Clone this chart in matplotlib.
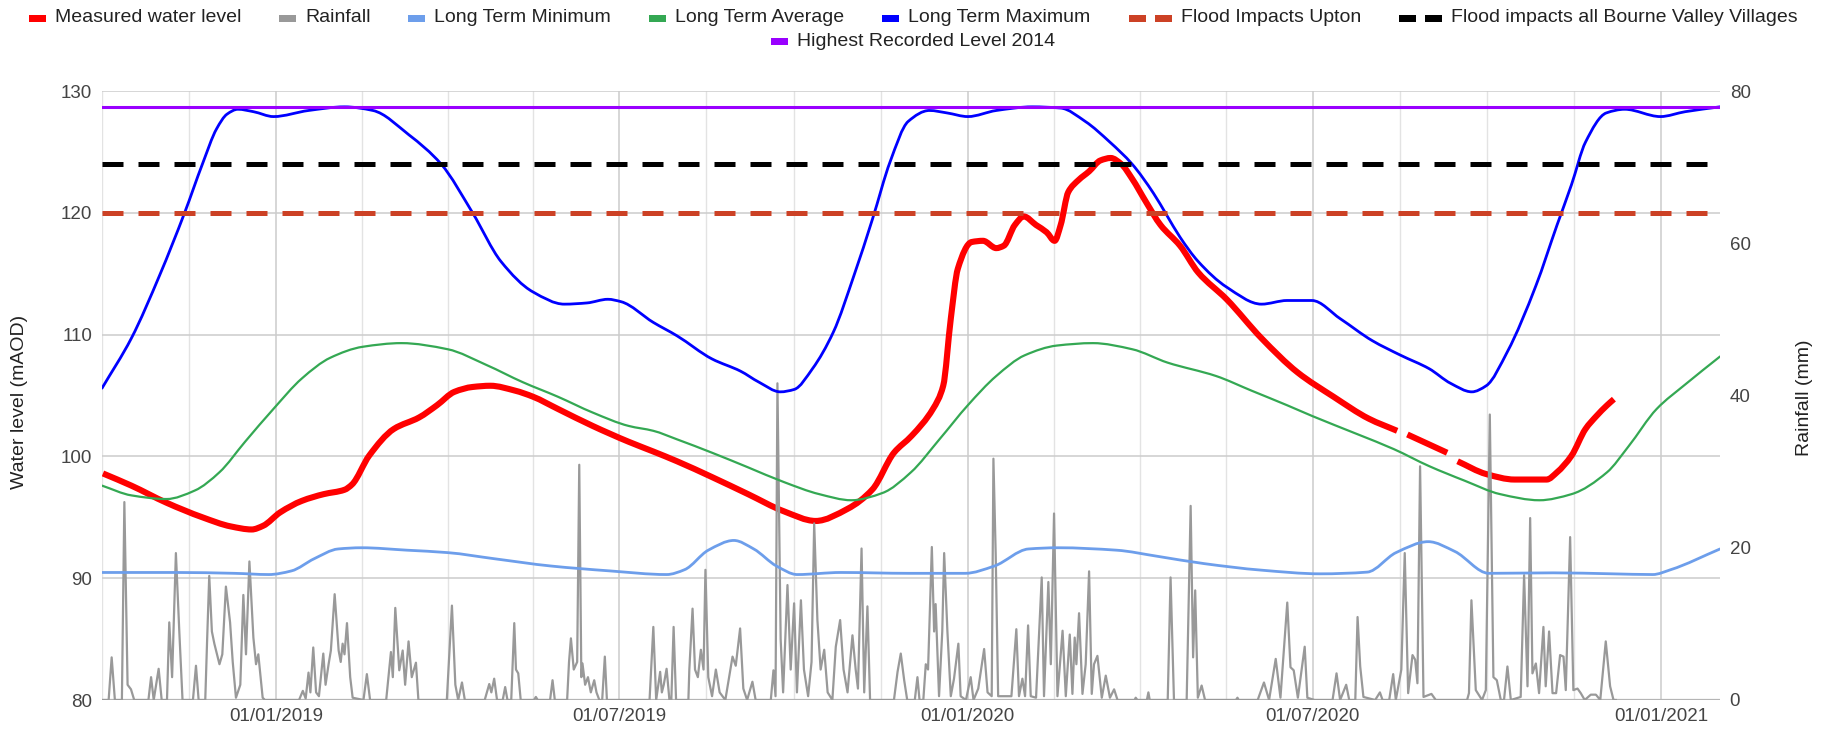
import matplotlib
matplotlib.use("Agg")
import matplotlib.pyplot as plt
import matplotlib.dates as mdates
from matplotlib.patches import Rectangle, PathPatch
from matplotlib.path import Path
import numpy as np
import pandas as pd

plt.rcParams['font.family'] = ['Liberation Sans', 'DejaVu Sans']

# ---------------- data (days counted from start_date) ----------------
start_date = "2018-10-01"
x_end_day = 854

level_day = [0.5, 15.5, 34, 53, 68, 79, 85, 94, 105.5, 117, 128, 132, 141, 154, 167.4, 176.8,
             186, 195.6, 205, 218, 227.5, 240.6, 259, 278, 291, 303.5, 322, 341, 359.8, 376.7,
             393.6, 406.7, 418, 427.4, 438.6, 444, 448, 451.7, 459, 465, 472, 476, 481.8, 486.5,
             493, 498.6, 502.8, 506, 510, 515.5, 521, 527, 532.4, 538, 543.7, 551, 558.7, 569,
             578.6, 593.6, 612, 631, 650, 668.6, 683.6, 686, 689, 710, 712.5, 715.5, 730.6,
             745.6, 762.5, 768, 775.6, 783, 788.7, 794.4, 798]
level_mAOD = [98.6, 97.6, 96.2, 95.0, 94.25, 94.0, 94.3, 95.4, 96.35, 96.9, 97.26, 97.7, 100.06,
              102.25, 103.2, 104.2, 105.3, 105.7, 105.8, 105.4, 104.9, 103.9, 102.5, 101.2, 100.4,
              99.6, 98.3, 96.9, 95.5, 94.7, 95.7, 97.3, 100.3, 101.7, 103.9, 105.8, 111.3, 115.4,
              117.6, 117.7, 117.1, 117.3, 119.0, 119.7, 119.0, 118.4, 117.7, 119.0, 121.7, 122.7,
              123.4, 124.3, 124.5, 124.0, 122.8, 120.9, 119.0, 117.3, 115.1, 112.9, 109.7, 106.9,
              104.9, 103.1, 102.1, np.nan, 101.8, 100.3, np.nan, 99.6, 98.55, 98.1, 98.1, 98.7,
              100.05, 102.25, 103.3, 104.2, 104.7]

lt_min_day = [0, 39, 70, 88, 100, 112, 124.6, 137, 161, 182.5, 207, 237, 268, 298, 307.5, 320,
              333.5, 344, 356, 367, 390, 426, 455.5, 471, 489, 504.7, 535.5, 557, 581.6, 612,
              643, 667.8, 683, 700, 714, 732, 766, 797, 818.5, 828, 854]
lt_min = [90.47, 90.47, 90.4, 90.3, 90.6, 91.6, 92.4, 92.5, 92.3, 92.1, 91.6, 91.0, 90.6, 90.3,
          90.7, 92.3, 93.1, 92.4, 91.0, 90.3, 90.47, 90.4, 90.4, 91.0, 92.4, 92.5, 92.3, 91.8,
          91.2, 90.66, 90.36, 90.5, 92.1, 93.0, 92.2, 90.4, 90.44, 90.36, 90.3, 90.7, 92.4]

lt_avg_day = [0, 15.5, 34, 49, 62, 75.5, 90.5, 105.5, 120.5, 137.6, 158, 182.4, 203, 222, 240.6,
              259, 278, 291, 303.5, 322, 341, 359.8, 378.6, 395.5, 412, 427, 442, 457, 472, 487,
              504, 523, 543.7, 562.4, 588, 606.7, 625.5, 639, 663, 681.8, 700.5, 719.3, 738,
              758.7, 775.6, 794.4, 805.6, 820.6, 835.6, 854]
lt_avg = [97.6, 96.8, 96.5, 97.2, 98.7, 101.2, 103.9, 106.4, 108.1, 109.0, 109.3, 108.8, 107.5,
          106.1, 104.9, 103.6, 102.5, 102.1, 101.4, 100.3, 99.1, 97.9, 96.9, 96.4, 97.0, 98.7,
          101.4, 104.2, 106.6, 108.3, 109.1, 109.3, 108.8, 107.7, 106.6, 105.4, 104.2, 103.3,
          101.8, 100.6, 99.2, 98.0, 96.9, 96.4, 96.9, 98.7, 100.8, 103.9, 105.9, 108.2]

lt_max_day = [0, 15.5, 30.5, 43.6, 53, 60.5, 66, 71.7, 80, 90.5, 109, 128, 143, 162, 179, 195.6,
              210.6, 227.5, 244, 256, 267, 274, 291, 303.5, 322, 337, 346.7, 358, 365.4, 375, 386,
              397, 406.7, 416, 425.5, 436.7, 446, 457, 472, 491, 506, 519, 532, 543.7, 555, 562,
              569, 578.6, 593.6, 612, 625.5, 638.6, 653.6, 670.5, 685.5, 700.5, 711.8, 723,
              730.6, 741.8, 756.8, 768, 775.6, 783, 794, 803.7, 822.5, 835.6, 854]
lt_max = [105.6, 109.7, 114.9, 120.0, 124.0, 126.9, 128.1, 128.5, 128.3, 127.9, 128.4, 128.7,
          128.4, 126.4, 124.0, 120.0, 116.0, 113.5, 112.5, 112.6, 112.9, 112.7, 111.0, 109.9,
          108.0, 107.0, 106.1, 105.3, 105.5, 107.2, 110.2, 114.9, 119.5, 124.2, 127.5, 128.4,
          128.2, 127.9, 128.4, 128.7, 128.6, 127.5, 125.8, 124.0, 121.6, 119.8, 118.0, 116.0,
          113.9, 112.5, 112.8, 112.8, 111.3, 109.5, 108.3, 107.2, 106.0, 105.3, 105.8, 108.6,
          114.0, 119.0, 122.3, 125.8, 128.2, 128.5, 127.9, 128.3, 128.7]

flood_upton = 120.0
flood_bourne = 124.0
highest_2014 = 128.7

rain_day = [0, 3.5, 5.1, 6.8, 10.5, 11.8, 13.5, 15.3, 17, 24.5, 25.9, 27.3, 29.9, 31.5, 34.3, 35.5,
            37, 39, 40.8, 42.5, 48, 49.6, 51, 54.5, 55.5, 56.6, 58, 59.3, 62, 63.5, 65.4, 67.6, 69,
            70.7, 73, 74.6, 76, 77.8, 79.9, 81.3, 82.5, 84.8, 86, 104, 106, 107.5, 109, 110, 111.5,
            113, 114.5, 116.8, 118, 119.6, 120.8, 122.8, 124.9, 126, 127, 128, 129.3, 131, 132.3,
            138, 139.8, 141.5, 150, 152.5, 153.5, 154.8, 156.9, 158.7, 160, 161.8, 163.5, 165.7,
            167, 182, 184.7, 186.5, 188, 190, 191.5, 202, 204.4, 205.5, 207, 208.5, 211.5, 212.8,
            214,
            216, 217.6, 218.5, 219.7, 221, 228, 229, 230, 236.5, 237.8, 239, 245.5, 246.5, 247.5,
            249, 250.8, 251.9, 253, 253.6, 255, 256.5, 258, 259.8, 261, 262.5, 264, 265.4, 266.5,
            289, 291, 292.5, 294.6, 295.5, 296.5, 298, 299.5, 300.5, 301.7, 303, 309.5, 310,
            311.7, 313, 314.5, 316.1, 317.5, 318.5, 320, 322, 324, 326, 329, 331, 332.8, 334.5,
            336.8, 338.5, 340.5, 343.3, 345, 353, 354.4, 355.5, 356.5, 358.2, 359.5, 361.8, 363.5,
            365.3, 366.8, 368.9, 370.5, 372.7, 374.5, 375.9, 377.6, 379.3, 381.2, 383, 385.5,
            387.3, 389.6, 391.4, 393.5, 396.1, 397.8, 399, 400.9, 402.3, 404, 405.4, 418, 419.9,
            421.6, 423.4, 425,
            429, 430.4, 431.5, 433.5, 434.8, 436, 438, 439.2, 440, 441.8, 443.5, 444.5, 446.2,
            448, 449.7, 452, 453.2, 456, 458.5, 460, 462.5, 465.6, 467.4, 469.6, 470.5, 471.7,
            473, 480, 482.6, 484, 485.8, 487.2, 488.8, 490.2, 493, 496, 497.2, 499.5, 500.8,
            502.5, 504.3, 507, 508.7, 510.8, 512.2, 513.4, 514.3, 515.7, 517.5, 519.2, 521, 522.4,
            523.6, 525.4, 527.7, 529.8, 532, 534.2, 536, 545, 545.6, 546.5, 551.5, 552.3, 553,
            562.5, 564, 565.8, 572.5, 574.6, 575.9, 577, 578.4, 580.4, 582.2, 598.5, 599.3, 600,
            610, 610.7, 613.3, 616, 619.5, 622, 625.6, 627.3, 629, 631.2, 634.8, 636.2,
            640, 647, 649.5, 651.6, 653.5, 656.7, 658.3, 661.5, 662.7, 664.1, 665.8, 672, 674.5,
            675.9, 679.4, 681.5, 682.9, 685.8, 687.6, 689.4, 691.7, 693.1, 694.3, 695.7, 697.5,
            701.7, 704, 720.5, 721.5, 722.8, 725.1, 728.4, 730.4, 732.5, 734.4, 736.2, 738.3, 740,
            741.8, 743.6, 748.8, 750.6, 752.4, 753.8, 755, 756.8, 758.5, 760.8, 762, 763.8, 765.6,
            767.5, 769.6, 771.4, 772.6, 774.9, 776.6, 778.8, 780.5, 782.6, 785.8, 788.5, 790.8,
            793.7, 796, 797.8, 799]
rain_mm = [0, 0, 5.6, 0, 0, 26.0, 2, 1.4, 0, 0, 3.0, 0, 4.1, 0, 0, 10.2,
           3, 19.3, 9.0, 0, 0, 4.5, 0, 0, 8, 16.3, 9, 7.4, 4.7, 6, 14.9, 10.2, 5,
           0.3, 2, 13.8, 6, 18.2, 8.2, 4.7, 6, 0.3, 0, 0, 1.2, 0.2, 3.6, 1, 6.9,
           1, 0.5, 6.1, 2, 4.7, 6.5, 13.9, 6.5, 5, 7.4, 6, 10.1, 3, 0.3,
           0, 3.4, 0, 0, 6.3, 3, 12.1, 3.9, 6.5, 2, 7.7, 3, 4.9,
           0, 0, 12.4, 2, 0, 2.3, 0, 0, 2.1, 1, 2.8, 0, 0, 1.7,
           0,
           0, 10.1, 4, 3.5, 0, 0, 0.4, 0, 0, 2.6, 0, 0, 5, 8.1,
           4, 5, 30.9, 3, 4.8, 2, 3, 1, 2.6, 1, 0, 0, 5.7, 0,
           0, 9.6, 0, 3.7, 1, 2, 4.1, 0, 0, 9.6, 0, 0, 4,
           12.0, 4, 3, 6.6, 4, 17.1, 3, 0.5, 4, 1, 0, 3, 5.7, 4.5,
           9.4, 1.5, 0, 2.4, 0, 0, 3.9, 0.5, 41.6, 8, 1, 15.1, 4,
           12.7, 1, 13.1, 4, 0.5, 5, 23.2, 10.5, 4, 6.6, 1, 0,
           7.0, 10.5, 4, 1, 8.5, 4, 1.5, 19.9, 1, 12.3, 0, 0, 3.7,
           6.1, 2.6, 0,
           0, 3.0, 0, 0, 4.7, 4, 20.1, 9, 12.6, 0.5, 9, 19.3, 9.1,
           0.5, 2.8, 7.4, 0.5, 0, 3.0, 0, 1.5, 6.7, 1, 0.5, 31.7, 19.2,
           0.5, 0.5, 9.3, 0.5, 2.8, 0.5, 9.8, 0.5, 0.3, 16.1, 0.5, 15.5, 4.7,
           24.5, 0.5, 9.1, 0.5, 8.6, 0.8, 8.2, 4.7, 11.4, 0.8, 4.7, 16.9, 0.8,
           4.7, 5.8, 0.3, 3.2, 0.3, 1.4, 0, 0, 0.3, 0, 0, 1.0, 0,
           0, 16.1, 0, 0, 25.5, 5.6, 14.4, 0.3, 1.9, 0, 0, 0.3, 0,
           0, 0.5, 2.3, 0, 5.4, 0.3, 12.8, 4.3, 3.9, 0.3, 7.0, 0.3,
           0, 0, 0, 3.5, 0, 2.0, 0, 0, 10.9, 4.4, 0.4, 0, 1.0,
           0, 0, 3.4, 0, 4, 19.3, 0.9, 5.9, 5.3, 2.2, 30.7, 0.4,
           0.8, 0, 0, 0.9, 13.1, 1.3, 0, 1.3, 37.5, 3.0, 2.6, 0, 0,
           4.4, 0, 0.4, 16.4, 1.8, 23.9, 3.5, 4.8, 0.9, 9.6, 1.8, 9.0, 0.9,
           0.9, 5.9, 5.7, 1.3, 21.4, 1.3, 1.5, 0.9, 0, 0.7, 0.7, 0,
           7.7, 1.8, 0, 0]

left_ticks = [80, 90, 100, 110, 120, 130]
right_ticks = [0, 20, 40, 60, 80]
x_label_dates = ["2019-01-01", "2019-07-01", "2020-01-01", "2020-07-01", "2021-01-01"]

legend_row1 = [("solid", "#ff0000", "Measured water level"),
               ("solid", "#999999", "Rainfall"),
               ("solid", "#6d9eeb", "Long Term Minimum"),
               ("solid", "#34a853", "Long Term Average"),
               ("solid", "#0000ff", "Long Term Maximum"),
               ("dash", "#cc4125", "Flood Impacts Upton"),
               ("dash", "#000000", "Flood impacts all Bourne Valley Villages")]
legend_row2 = [("solid", "#9900ff", "Highest Recorded Level 2014")]

# ---------------- helpers ----------------
t0 = pd.Timestamp(start_date)


def to_dates(days):
    return t0 + pd.to_timedelta(np.asarray(days, dtype=float), unit="D")


def smooth_paths(days, values):
    """Smooth (monotone cubic Bezier) path through the data points,
    split at missing values - like a 'curveType: function' line."""
    xs_all = mdates.date2num(to_dates(days))
    ys_all = np.asarray(values, dtype=float)
    ok = ~np.isnan(ys_all)
    paths = []
    idx = np.flatnonzero(ok)
    runs = np.split(idx, np.flatnonzero(np.diff(idx) > 1) + 1)
    for run in runs:
        xs, ys = xs_all[run], ys_all[run]
        n = len(xs)
        if n < 2:
            continue
        h = np.diff(xs)
        d = np.diff(ys) / h
        m = np.zeros(n)
        m[0], m[-1] = d[0], d[-1]
        for i in range(1, n - 1):
            if d[i - 1] * d[i] <= 0:
                m[i] = 0.0
            else:
                w1 = 2 * h[i] + h[i - 1]
                w2 = h[i] + 2 * h[i - 1]
                m[i] = (w1 + w2) / (w1 / d[i - 1] + w2 / d[i])
        verts = [(xs[0], ys[0])]
        codes = [Path.MOVETO]
        for i in range(n - 1):
            hh = h[i]
            verts += [(xs[i] + hh / 3, ys[i] + m[i] * hh / 3),
                      (xs[i + 1] - hh / 3, ys[i + 1] - m[i + 1] * hh / 3),
                      (xs[i + 1], ys[i + 1])]
            codes += [Path.CURVE4] * 3
        paths.append(Path(verts, codes))
    return paths


def add_smooth(ax, days, values, color, lw, z, cap="round"):
    for p in smooth_paths(days, values):
        patch = PathPatch(p, fill=False, edgecolor=color, lw=lw, zorder=z,
                          capstyle=cap, joinstyle="round")
        ax.add_patch(patch)


W, H = 1826, 732
fig = plt.figure(figsize=(W / 100, H / 100), dpi=100)
ax = fig.add_axes([102 / W, (H - 700) / H, (1720 - 102) / W, (700 - 91) / H])
ax2 = ax.twinx()

x0, x1 = to_dates([0, x_end_day])
ax.xaxis_date()
ax.set_xlim(x0, x1)
ax.set_ylim(80, 130)
ax2.set_ylim(0, 80)

for a in (ax, ax2):
    for s in a.spines.values():
        s.set_visible(False)

# vertical grid: half-year majors + three evenly spaced minors in between
halfyears = pd.to_datetime(["2018-07-01", "2019-01-01", "2019-07-01", "2020-01-01",
                            "2020-07-01", "2021-01-01", "2021-07-01"])
for h0, h1 in zip(halfyears[:-1], halfyears[1:]):
    if x0 <= h0 <= x1:
        ax.axvline(h0, color="#cccccc", lw=1.1, zorder=0.5)
    for k in (1, 2, 3):
        g = h0 + (h1 - h0) * k / 4
        if x0 <= g <= x1:
            ax.axvline(g, color="#e3e3e3", lw=1.0, zorder=0.4)

for v in left_ticks:
    if v == 80:
        ax.axhline(v, color="#b5b5b5", lw=1.6, zorder=0.6)
    else:
        ax.axhline(v, color="#cccccc", lw=1.1, zorder=0.6)

# series (draw order follows the chart's series order)
add_smooth(ax, level_day, level_mAOD, "#ff0000", 4.4, 3, cap="butt")
ax.plot(to_dates(rain_day), rain_mm, color="#999999", lw=1.6, zorder=3.1,
        transform=ax2.transData, solid_joinstyle="round")
add_smooth(ax, lt_min_day, lt_min, "#6d9eeb", 2.0, 3.2)
add_smooth(ax, lt_avg_day, lt_avg, "#34a853", 1.6, 3.3)
add_smooth(ax, lt_max_day, lt_max, "#0000ff", 2.0, 3.4)
ax.plot([x0, x1], [flood_upton, flood_upton], color="#cc4125", lw=3.6, zorder=3.5,
        dashes=(4.2, 3.0), dash_capstyle="butt")
ax.plot([x0, x1], [flood_bourne, flood_bourne], color="#000000", lw=3.6, zorder=3.6,
        dashes=(4.2, 3.0), dash_capstyle="butt")
ax.plot([x0, x1], [highest_2014, highest_2014], color="#9900ff", lw=2.2, zorder=3.7)

ax.set_xlim(x0, x1)
ax.set_ylim(80, 130)

# ticks
ax.set_yticks(left_ticks)
ax.set_yticklabels([str(v) for v in left_ticks])
ax2.set_yticks(right_ticks)
ax2.set_yticklabels([str(v) for v in right_ticks])
ax.set_xticks(pd.to_datetime(x_label_dates))
ax.xaxis.set_major_formatter(mdates.DateFormatter("%d/%m/%Y"))
ax.tick_params(axis="y", length=0, pad=7, labelsize=13.5, labelcolor="#444444")
ax2.tick_params(axis="y", length=0, pad=7, labelsize=13.5, labelcolor="#444444")
ax.tick_params(axis="x", length=0, pad=6, labelsize=13.5, labelcolor="#444444")
ax.grid(False)
ax2.grid(False)

fig.text(20 / W, 1 - 402 / H, "Water level (mAOD)", rotation=90, ha="center", va="center",
         fontsize=14, color="#222222")
fig.text(1804 / W, 1 - 398 / H, "Rainfall (mm)", rotation=90, ha="center", va="center",
         fontsize=14, color="#222222")

# legend drawn by hand (Google-Charts-like icons)
renderer = fig.canvas.get_renderer()


def legend_row(entries, y_px):
    items = []
    for kind, color, label in entries:
        t = fig.text(0, 1 - y_px / H, label, fontsize=14, color="#222222",
                     ha="left", va="center")
        tw = t.get_window_extent(renderer).width
        iw = 17 if kind == "solid" else 43
        items.append((kind, color, t, iw, tw))
    gap_icon, gap_item = 9, 38
    total = sum(iw + gap_icon + tw for _, _, _, iw, tw in items) + gap_item * (len(items) - 1)
    x = (W - total) / 2
    for kind, color, t, iw, tw in items:
        if kind == "solid":
            segs = [(x, 17)]
        else:
            segs = [(x, 17), (x + 26, 17)]
        for sx, sw in segs:
            fig.add_artist(Rectangle((sx / W, (H - y_px - 3.5) / H), sw / W, 7 / H,
                                     transform=fig.transFigure, color=color, lw=0))
        t.set_position(((x + iw + gap_icon) / W, 1 - y_px / H))
        x += iw + gap_icon + tw + gap_item


legend_row(legend_row1, 18)
legend_row(legend_row2, 41)

fig.savefig("out.png", dpi=100)
